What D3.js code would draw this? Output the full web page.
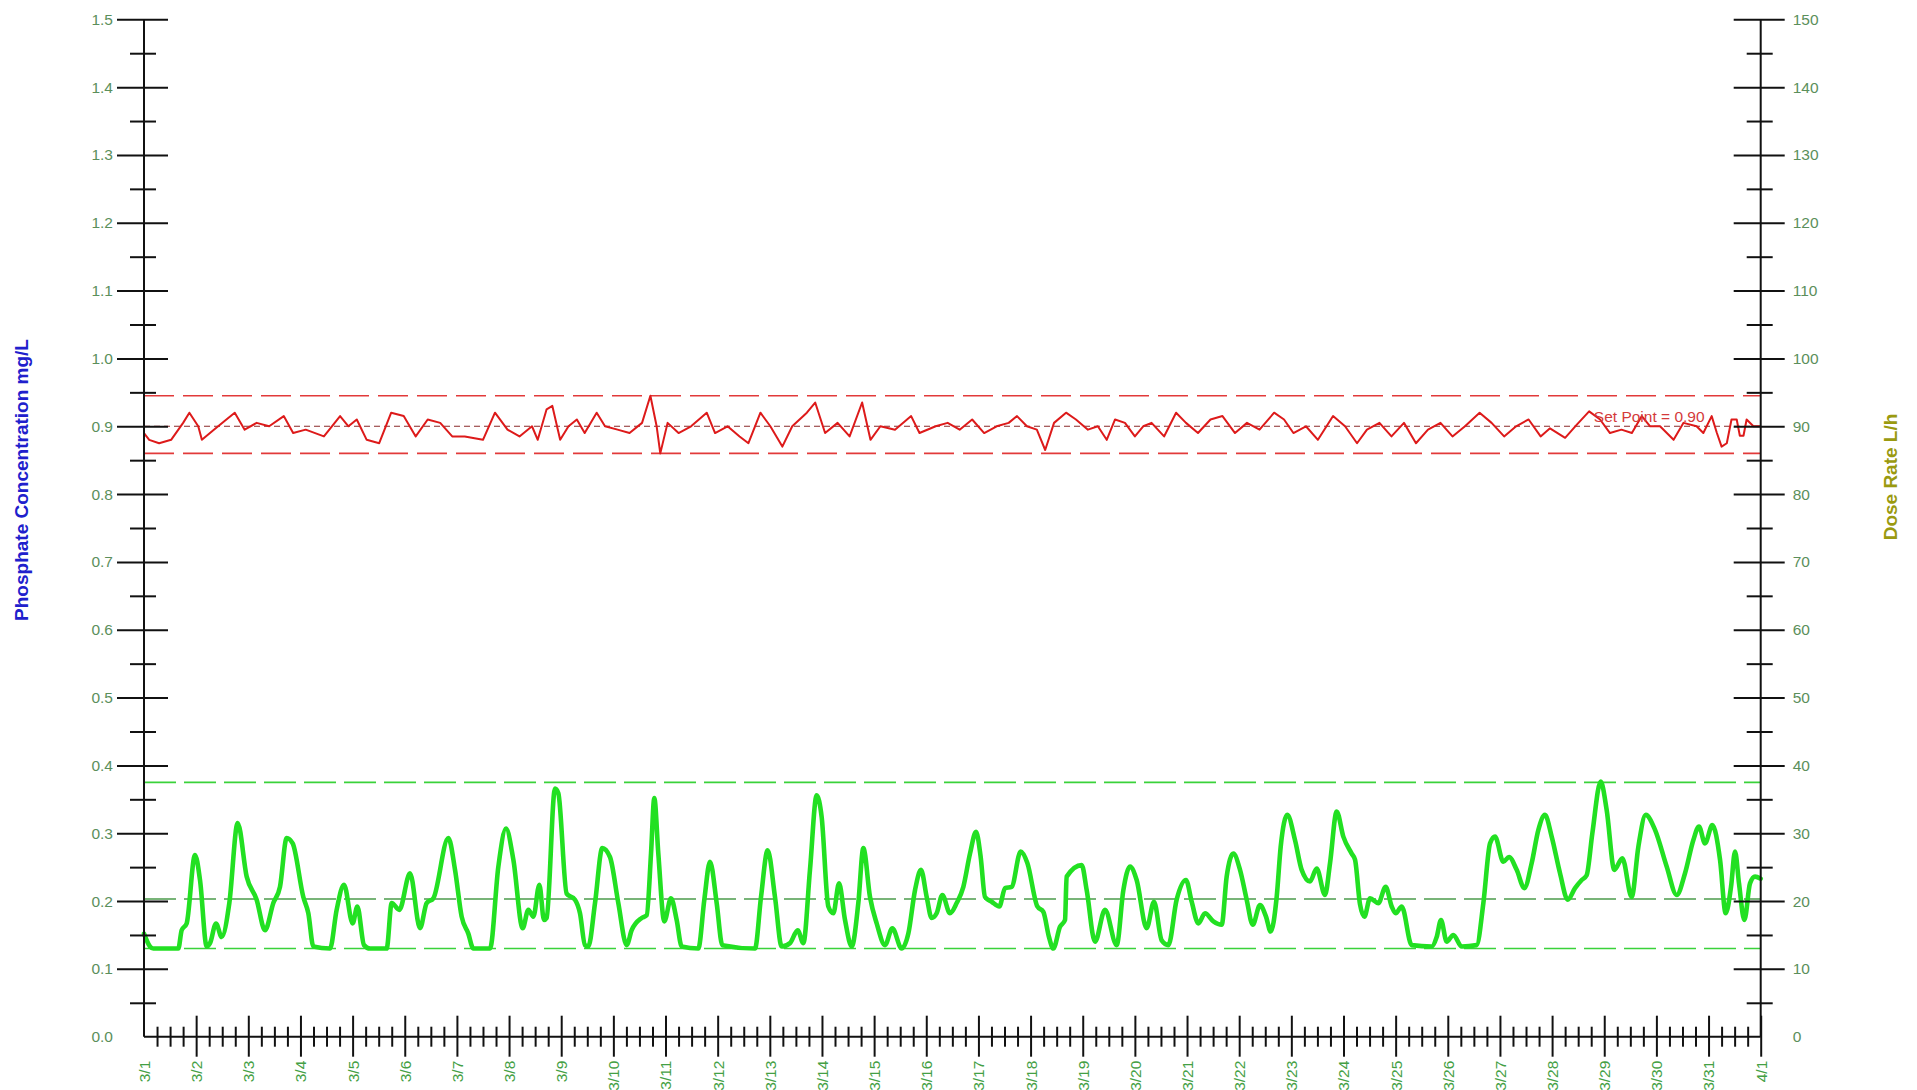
<!DOCTYPE html>
<html>
<head>
<meta charset="utf-8">
<script src="https://cdn.jsdelivr.net/npm/d3@7"></script>
<style>
  html, body { margin: 0; padding: 0; background: #ffffff; }
  svg { display: block; font-family: "Liberation Sans", Arial, sans-serif; }
</style>
</head>
<body>
<svg id="chart" width="1917" height="1090"></svg>
<script>
// ---------------- DATA ----------------
const dayLabels = ["3/1","3/2","3/3","3/4","3/5","3/6","3/7","3/8","3/9","3/10","3/11","3/12","3/13","3/14","3/15","3/16","3/17","3/18","3/19","3/20","3/21","3/22","3/23","3/24","3/25","3/26","3/27","3/28","3/29","3/30","3/31","4/1"];
const leftTicks = [0.0,0.1,0.2,0.3,0.4,0.5,0.6,0.7,0.8,0.9,1.0,1.1,1.2,1.3,1.4,1.5];
const rightTicks = [0,10,20,30,40,50,60,70,80,90,100,110,120,130,140,150];

const phosphateSetPoint = 0.90;
const phosphateLimits = [0.86, 0.945];
const doseLimits = [13.0, 37.5];
const doseMid = 20.3;

// [day offset from 3/1, phosphate mg/L]
const phosphate = [[0.00,0.89],[0.10,0.88],[0.29,0.875],[0.52,0.88],[0.75,0.905],[0.87,0.92],[1.04,0.90],[1.11,0.88],[1.34,0.895],[1.58,0.91],[1.74,0.92],[1.93,0.895],[2.16,0.905],[2.40,0.90],[2.68,0.915],[2.86,0.89],[3.10,0.895],[3.45,0.885],[3.76,0.915],[3.92,0.90],[4.08,0.91],[4.27,0.88],[4.51,0.875],[4.74,0.92],[4.98,0.915],[5.21,0.885],[5.44,0.91],[5.68,0.905],[5.91,0.885],[6.15,0.885],[6.50,0.88],[6.73,0.92],[6.97,0.895],[7.20,0.885],[7.44,0.90],[7.55,0.88],[7.72,0.925],[7.83,0.93],[7.98,0.88],[8.14,0.90],[8.30,0.91],[8.45,0.89],[8.68,0.92],[8.84,0.90],[9.08,0.895],[9.31,0.89],[9.55,0.905],[9.71,0.945],[9.83,0.90],[9.90,0.86],[10.04,0.905],[10.25,0.89],[10.49,0.90],[10.79,0.92],[10.95,0.89],[11.19,0.90],[11.42,0.885],[11.59,0.875],[11.82,0.92],[12.01,0.90],[12.24,0.87],[12.43,0.90],[12.71,0.92],[12.87,0.935],[13.06,0.89],[13.30,0.905],[13.53,0.885],[13.77,0.935],[13.93,0.88],[14.12,0.90],[14.40,0.895],[14.71,0.915],[14.87,0.89],[15.18,0.90],[15.41,0.905],[15.64,0.895],[15.88,0.91],[16.11,0.89],[16.35,0.90],[16.58,0.905],[16.74,0.915],[16.93,0.90],[17.12,0.895],[17.28,0.865],[17.45,0.905],[17.68,0.92],[17.87,0.91],[18.10,0.895],[18.29,0.90],[18.46,0.88],[18.62,0.91],[18.81,0.905],[19.00,0.885],[19.16,0.90],[19.32,0.905],[19.56,0.885],[19.79,0.92],[19.98,0.905],[20.21,0.89],[20.45,0.91],[20.68,0.915],[20.92,0.89],[21.15,0.905],[21.39,0.895],[21.67,0.92],[21.86,0.91],[22.04,0.89],[22.28,0.90],[22.51,0.88],[22.80,0.915],[23.03,0.90],[23.26,0.875],[23.45,0.895],[23.69,0.905],[23.92,0.885],[24.16,0.905],[24.39,0.875],[24.62,0.895],[24.86,0.905],[25.09,0.885],[25.33,0.90],[25.61,0.92],[25.84,0.905],[26.08,0.885],[26.31,0.90],[26.55,0.91],[26.78,0.885],[26.96,0.897],[27.25,0.883],[27.47,0.902],[27.71,0.922],[27.92,0.91],[28.11,0.89],[28.33,0.895],[28.53,0.89],[28.72,0.915],[28.88,0.90],[29.07,0.90],[29.33,0.88],[29.52,0.905],[29.77,0.90],[29.90,0.89],[30.06,0.915],[30.16,0.89],[30.25,0.87],[30.35,0.875],[30.44,0.91],[30.54,0.91],[30.60,0.886],[30.67,0.886],[30.73,0.91],[30.86,0.90],[31.0,0.90]];

// [day offset from 3/1, dose rate L/h]
const doseRate = [[0.00,15.2],[0.115,13.3],[0.179,13.0],[0.658,13.0],[0.722,15.7],[0.818,16.7],[0.978,26.8],[1.074,23.1],[1.202,13.3],[1.266,13.8],[1.381,16.7],[1.489,14.7],[1.636,19.7],[1.796,31.5],[1.969,23.6],[2.160,20.2],[2.320,15.7],[2.480,19.7],[2.608,22.1],[2.736,29.3],[2.851,28.5],[3.055,20.6],[3.151,18.2],[3.247,13.3],[3.567,13.0],[3.694,18.7],[3.835,22.4],[4.001,16.7],[4.091,19.2],[4.219,13.5],[4.334,13.0],[4.653,13.0],[4.749,19.7],[4.896,18.7],[5.101,24.1],[5.293,16.0],[5.420,19.7],[5.548,20.4],[5.836,29.3],[5.964,24.6],[6.091,17.7],[6.219,15.2],[6.315,13.0],[6.635,13.0],[6.795,25.1],[6.941,30.7],[7.082,26.1],[7.261,16.0],[7.370,18.7],[7.466,17.7],[7.581,22.4],[7.670,17.2],[7.72,17.5],[7.881,36.6],[7.945,35.9],[8.104,21.1],[8.264,20.2],[8.360,18.2],[8.456,13.5],[8.520,13.3],[8.648,19.7],[8.788,27.8],[8.935,26.5],[9.095,19.7],[9.255,13.5],[9.351,15.7],[9.543,17.5],[9.639,17.9],[9.722,27.0],[9.785,35.2],[9.862,27.0],[9.977,17.0],[10.105,20.4],[10.214,17.2],[10.310,13.3],[10.629,13.0],[10.744,20.2],[10.853,25.8],[10.981,19.7],[11.089,13.5],[11.716,13.0],[11.831,20.6],[11.959,27.5],[12.099,20.6],[12.227,13.3],[12.387,13.8],[12.534,15.7],[12.643,13.8],[12.770,24.6],[12.898,35.6],[12.994,32.4],[13.122,19.2],[13.218,18.2],[13.327,22.6],[13.442,17.2],[13.570,13.3],[13.697,19.7],[13.793,27.8],[13.921,20.6],[14.049,16.7],[14.209,13.5],[14.349,16.0],[14.528,13.0],[14.656,15.2],[14.784,21.6],[14.899,24.6],[15.008,20.6],[15.103,17.5],[15.199,18.2],[15.308,20.9],[15.455,18.2],[15.583,19.7],[15.711,22.1],[15.839,27.0],[15.954,30.2],[16.043,26.5],[16.126,20.6],[16.254,19.9],[16.401,19.2],[16.510,21.9],[16.637,22.1],[16.810,27.3],[16.938,25.6],[17.130,19.2],[17.245,18.4],[17.353,14.7],[17.436,13.0],[17.564,16.2],[17.660,17.2],[17.692,23.6],[17.980,25.3],[18.076,21.6],[18.235,14.0],[18.427,18.7],[18.651,13.5],[18.779,21.6],[18.907,25.1],[19.034,23.1],[19.226,16.0],[19.367,19.9],[19.514,14.2],[19.642,13.5],[19.801,20.2],[19.980,23.1],[20.089,19.9],[20.217,16.7],[20.345,18.2],[20.505,17.0],[20.664,16.5],[20.760,23.6],[20.888,27.0],[21.016,24.6],[21.144,20.2],[21.259,16.5],[21.399,19.4],[21.514,17.7],[21.604,15.5],[21.719,20.6],[21.796,28.0],[21.924,32.7],[22.070,29.0],[22.198,24.6],[22.358,22.9],[22.486,24.8],[22.646,20.9],[22.742,25.6],[22.870,33.2],[22.997,29.5],[23.157,27.0],[23.221,26.1],[23.317,19.5],[23.400,17.7],[23.509,20.4],[23.668,19.7],[23.809,22.1],[23.924,19.2],[24.001,18.2],[24.116,19.2],[24.308,13.5],[24.691,13.3],[24.787,14.7],[24.870,17.2],[24.979,14.0],[25.107,15.0],[25.266,13.3],[25.554,13.5],[25.682,19.7],[25.810,28.5],[25.906,29.5],[26.065,25.8],[26.174,26.5],[26.321,24.6],[26.468,21.9],[26.609,25.6],[26.737,30.5],[26.864,32.7],[26.992,29.5],[27.152,24.1],[27.299,20.2],[27.440,21.9],[27.568,23.1],[27.663,23.8],[27.772,30.0],[27.932,37.6],[28.047,33.4],[28.194,24.6],[28.347,26.3],[28.526,20.6],[28.654,28.0],[28.795,32.7],[28.974,30.5],[29.197,25.1],[29.389,20.9],[29.549,24.1],[29.709,29.0],[29.817,31.0],[29.932,28.5],[30.073,31.2],[30.220,26.1],[30.329,18.2],[30.431,22.1],[30.508,27.3],[30.584,22.6],[30.687,17.2],[30.795,22.6],[30.891,23.6],[31.0,23.3]];

// ---------------- LAYOUT ----------------
const X0 = 144, X1 = 1760.7, YTOP = 19.3, YBOT = 1036.7;
const svg = d3.select("#chart");
svg.append("rect").attr("width", 1917).attr("height", 1090).attr("fill", "#ffffff");

const x = d3.scaleLinear().domain([0, 31]).range([X0, X1]);
const yL = d3.scaleLinear().domain([0, 1.5]).range([YBOT, YTOP]);
const yR = d3.scaleLinear().domain([0, 150]).range([YBOT, YTOP]);

const AXIS_COLOR = "#111111";
const LABEL_Y_COLOR = "#5b8f5b";
const LABEL_X_COLOR = "#44a044";

// ----- reference (limit) lines -----
const ref = svg.append("g");
function hline(yv, color, width, dash) {
  ref.append("line")
    .attr("x1", X0).attr("x2", X1)
    .attr("y1", yv).attr("y2", yv)
    .attr("stroke", color).attr("stroke-width", width)
    .attr("stroke-dasharray", dash);
}
phosphateLimits.forEach(v => hline(yL(v), "#e23a3a", 1.6, "30,9"));
hline(yL(phosphateSetPoint), "#8a2a2a", 1.2, "6,4");
doseLimits.forEach(v => hline(yR(v), "#3ad23a", 1.6, "32,8"));
hline(yR(doseMid), "#4c9c4c", 1.4, "32,8");

// ----- data lines -----
const lineL = d3.line().x(d => x(d[0])).y(d => yL(d[1])).curve(d3.curveLinear);
const lineR = d3.line().x(d => x(d[0])).y(d => yR(d[1])).curve(d3.curveMonotoneX);

svg.append("path").datum(doseRate)
  .attr("d", lineR).attr("fill", "none")
  .attr("stroke", "#22e022").attr("stroke-width", 4.6)
  .attr("stroke-linejoin", "round").attr("stroke-linecap", "round");

svg.append("path").datum(phosphate)
  .attr("d", lineL).attr("fill", "none")
  .attr("stroke", "#dd1a1a").attr("stroke-width", 2)
  .attr("stroke-linejoin", "round");

// set point label
svg.append("text")
  .attr("x", x(27.8)).attr("y", yL(phosphateSetPoint) - 4)
  .attr("fill", "#d43a3a").attr("font-size", 15.5)
  .text("Set Point = " + phosphateSetPoint.toFixed(2));

// ----- left axis -----
const gL = svg.append("g").attr("transform", `translate(${X0},0)`);
gL.call(d3.axisLeft(yL).tickValues(leftTicks).tickSize(27).tickSizeOuter(0).tickPadding(4).tickFormat(d3.format(".1f")));
gL.select(".domain").remove();
gL.selectAll(".tick line").attr("x1", 24).attr("stroke", AXIS_COLOR).attr("stroke-width", 2)
  .filter(d => d === 0).remove();
gL.selectAll(".tick text").attr("fill", LABEL_Y_COLOR).attr("font-size", 15.5)
  .attr("font-family", "Liberation Sans, Arial, sans-serif");
const leftMinor = d3.range(1, 30, 2).map(i => i * 0.05);
const gLm = svg.append("g").attr("transform", `translate(${X0},0)`);
gLm.call(d3.axisLeft(yL).tickValues(leftMinor).tickSize(14).tickSizeOuter(0).tickFormat(""));
gLm.select(".domain").remove();
gLm.selectAll(".tick line").attr("x1", 12).attr("stroke", AXIS_COLOR).attr("stroke-width", 2);
svg.append("line").attr("x1", X0).attr("x2", X0).attr("y1", YTOP).attr("y2", YBOT)
  .attr("stroke", AXIS_COLOR).attr("stroke-width", 2);

// ----- right axis -----
const gR = svg.append("g").attr("transform", `translate(${X1},0)`);
gR.call(d3.axisRight(yR).tickValues(rightTicks).tickSize(24).tickSizeOuter(0).tickPadding(8).tickFormat(d3.format("d")));
gR.select(".domain").remove();
gR.selectAll(".tick line").attr("x1", -27).attr("stroke", AXIS_COLOR).attr("stroke-width", 2)
  .filter(d => d === 0).remove();
gR.selectAll(".tick text").attr("fill", LABEL_Y_COLOR).attr("font-size", 15.5)
  .attr("font-family", "Liberation Sans, Arial, sans-serif");
const rightMinor = d3.range(1, 30, 2).map(i => i * 5);
const gRm = svg.append("g").attr("transform", `translate(${X1},0)`);
gRm.call(d3.axisRight(yR).tickValues(rightMinor).tickSize(12).tickSizeOuter(0).tickFormat(""));
gRm.select(".domain").remove();
gRm.selectAll(".tick line").attr("x1", -14).attr("stroke", AXIS_COLOR).attr("stroke-width", 2);
svg.append("line").attr("x1", X1).attr("x2", X1).attr("y1", YTOP).attr("y2", YBOT)
  .attr("stroke", AXIS_COLOR).attr("stroke-width", 2);

// ----- bottom axis -----
const majorDays = d3.range(0, 32);
const gX = svg.append("g").attr("transform", `translate(0,${YBOT})`);
gX.call(d3.axisBottom(x).tickValues(majorDays).tickSize(20).tickSizeOuter(0).tickFormat((d, i) => dayLabels[i]));
gX.select(".domain").remove();
gX.selectAll(".tick line").attr("y1", -21).attr("stroke", AXIS_COLOR).attr("stroke-width", 2)
  .filter(d => d === 0).remove();
gX.selectAll(".tick text")
  .attr("fill", LABEL_X_COLOR).attr("font-size", 15.5)
  .attr("font-family", "Liberation Sans, Arial, sans-serif")
  .attr("text-anchor", "end")
  .attr("y", 0).attr("dy", null)
  .attr("transform", "translate(0,24) rotate(-90)")
  .attr("x", 0).attr("dy", "0.35em");
const minorDays = d3.range(0, 31 * 4).filter(i => i % 4 !== 0).map(i => i / 4);
const gXm = svg.append("g").attr("transform", `translate(0,${YBOT})`);
gXm.call(d3.axisBottom(x).tickValues(minorDays).tickSize(10).tickSizeOuter(0).tickFormat(""));
gXm.select(".domain").remove();
gXm.selectAll(".tick line").attr("y1", -10).attr("stroke", AXIS_COLOR).attr("stroke-width", 2);
svg.append("line").attr("x1", X0).attr("x2", X1).attr("y1", YBOT).attr("y2", YBOT)
  .attr("stroke", AXIS_COLOR).attr("stroke-width", 2);

// ----- axis titles -----
svg.append("text")
  .attr("transform", `translate(28,${(YTOP + YBOT) / 2 - 48}) rotate(-90)`)
  .attr("text-anchor", "middle")
  .attr("fill", "#2020cc").attr("font-weight", "bold").attr("font-size", 19)
  .text("Phosphate Concentration mg/L");
svg.append("text")
  .attr("transform", `translate(1897,${(YTOP + YBOT) / 2 - 51}) rotate(-90)`)
  .attr("text-anchor", "middle")
  .attr("fill", "#9a9a10").attr("font-weight", "bold").attr("font-size", 19)
  .text("Dose Rate L/h");
</script>
</body>
</html>
